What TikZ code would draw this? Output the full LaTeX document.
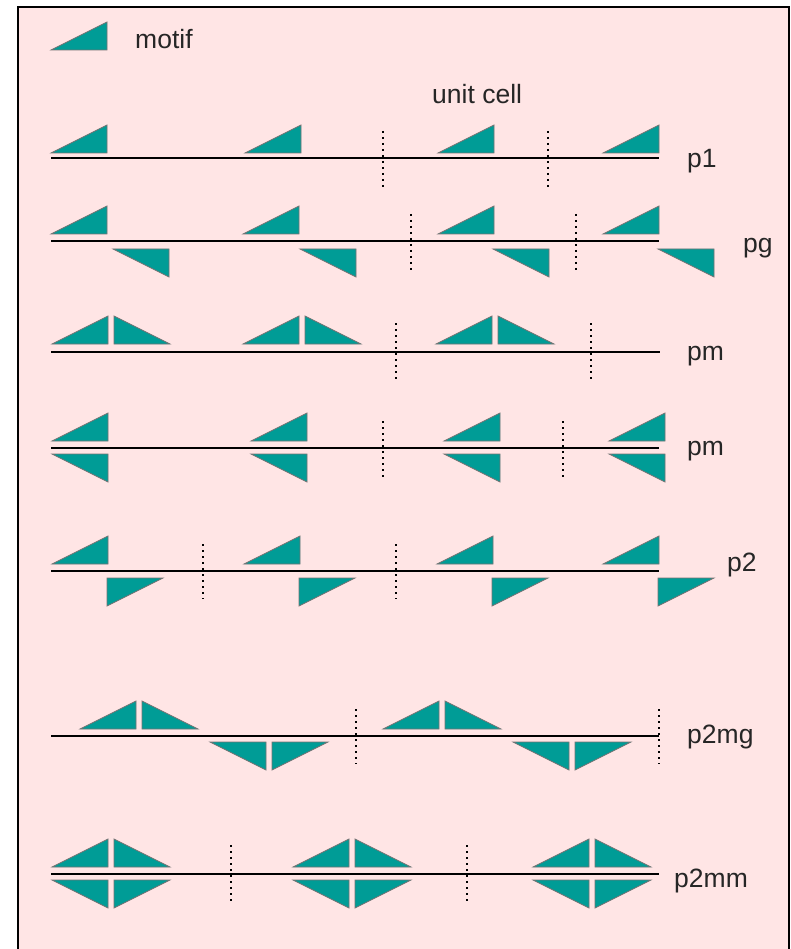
\documentclass[tikz,border=0pt]{standalone}
\usepackage{fontspec}
\setmainfont{Liberation Sans}
\usepackage{tikz}
\usetikzlibrary{calc, positioning}

\definecolor{motifteal}{RGB}{0,156,150}
\definecolor{panelpink}{RGB}{255,229,229}

\tikzset{
  motifshape/.style={fill=motifteal, draw=black!55, line width=0.7pt, line join=miter},
  axisline/.style={line width=1.8pt},
  celledge/.style={line width=1.6pt, dash pattern=on 2pt off 4pt},
  rowlabel/.style={anchor=base west, inner sep=0pt, text=black!85, font=\fontsize{26.5}{30}\selectfont}
}
% triangles: up = above the line, down = below it
\newcommand{\motifup}[2]{\draw[motifshape] (#1,#2) -- ++(56,0) -- ++(0,-28) -- cycle;}
\newcommand{\motifupflip}[2]{\draw[motifshape] (#1,#2) -- ++(56,0) -- ++(-56,-28) -- cycle;}
\newcommand{\motifdown}[2]{\draw[motifshape] (#1,#2) -- ++(56,0) -- ++(0,28) -- cycle;}
\newcommand{\motifdownflip}[2]{\draw[motifshape] (#1,#2) -- ++(56,0) -- ++(-56,28) -- cycle;}

\begin{document}
\begin{tikzpicture}[x=1pt, y=-1pt]
  \useasboundingbox (0,0) rectangle (791,949);
  \fill[white] (0,0) rectangle (791,949);
  \fill[panelpink] (18,7) rectangle (789,949);
  \draw[line width=1.8pt] (18,949) -- (18,7) -- (789,7) -- (789,949);

  % key
  \motifup{51}{50}
  \node[rowlabel] (motif) at (135,49) {motif};
  \node[rowlabel] (unitcell) at (432,104) {unit cell};

  % p1
  \draw[axisline] (51,158) -- (659,158);
  \foreach \x in {51, 245, 438, 603} {\motifup{\x}{153}}
  \foreach \x in {383, 548} {\draw[celledge] (\x,131) -- (\x,187);}
  \node[rowlabel] (p1) at (687,168) {p1};

  % pg
  \draw[axisline] (51,241) -- (659,241);
  \foreach \x in {51, 243, 438, 603} {\motifup{\x}{234}}
  \foreach \x in {113, 300, 493, 658} {\motifdown{\x}{249}}
  \foreach \x in {411, 576} {\draw[celledge] (\x,214) -- (\x,270);}
  \node[rowlabel] (pg) at (743,253) {pg};

  % pm, mirror across the cell
  \draw[axisline] (51,352) -- (660,352);
  \foreach \x in {52, 243, 436} {\motifup{\x}{344} \motifupflip{\x+62}{344}}
  \foreach \x in {396, 591} {\draw[celledge] (\x,323) -- (\x,380);}
  \node[rowlabel] (pma) at (687,360) {pm};

  % pm, mirror along the line
  \draw[axisline] (51,448) -- (659,448);
  \foreach \x in {52, 251, 444, 609} {\motifup{\x}{441} \motifdown{\x}{454}}
  \foreach \x in {383, 563} {\draw[celledge] (\x,421) -- (\x,477);}
  \node[rowlabel] (pmb) at (687,455) {pm};

  % p2
  \draw[axisline] (51,571) -- (659,571);
  \foreach \x in {52, 244, 437, 603} {\motifup{\x}{564} \motifdownflip{\x+55}{578}}
  \foreach \x in {203, 396} {\draw[celledge] (\x,544) -- (\x,599);}
  \node[rowlabel] (p2) at (727,571) {p2};

  % p2mg
  \draw[axisline] (51,736) -- (659,736);
  \foreach \x in {80, 383} {\motifup{\x}{729} \motifupflip{\x+62}{729}}
  \foreach \x in {210, 513} {\motifdown{\x}{742} \motifdownflip{\x+62}{742}}
  \foreach \x in {356, 659} {\draw[celledge] (\x,709) -- (\x,764);}
  \node[rowlabel] (p2mg) at (687,743) {p2mg};

  % p2mm
  \draw[axisline] (51,874) -- (659,874);
  \foreach \x in {52, 293, 533} {
    \motifup{\x}{867} \motifupflip{\x+62}{867}
    \motifdown{\x}{880} \motifdownflip{\x+62}{880}
  }
  \foreach \x in {231, 467} {\draw[celledge] (\x,845) -- (\x,902);}
  \node[rowlabel] (p2mm) at (674,887) {p2mm};
\end{tikzpicture}
\end{document}
